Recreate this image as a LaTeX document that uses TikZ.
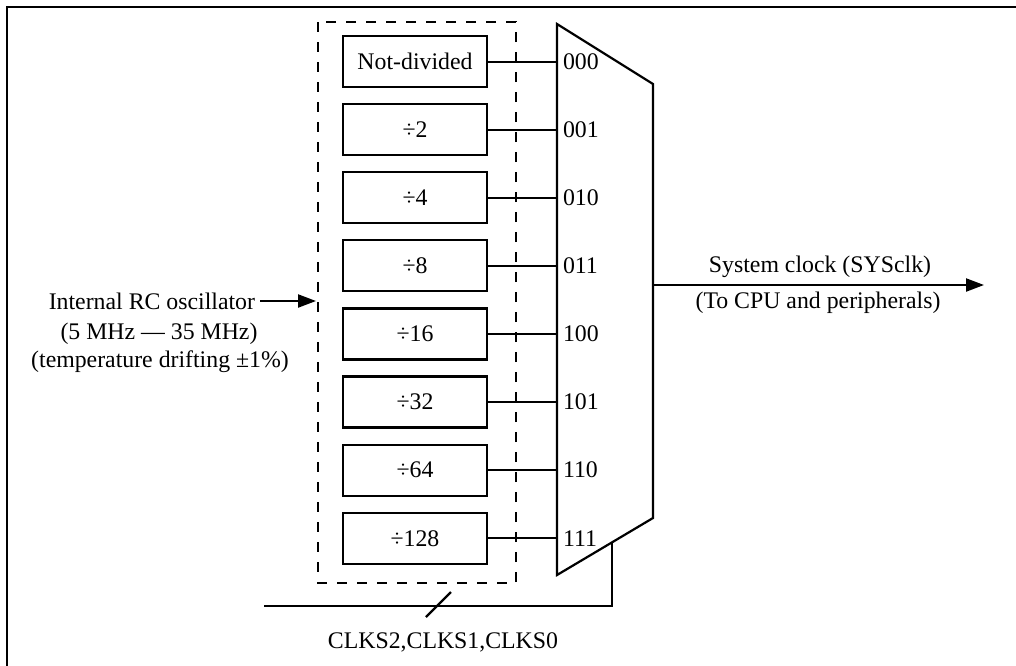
\documentclass[tikz,border=0pt]{standalone}
\usepackage{fontspec}
\setmainfont{Liberation Serif}
\usetikzlibrary{arrows.meta}
\begin{document}
\begin{tikzpicture}[x=0.5pt,y=-0.5pt,
  line width=1pt,
  txt/.style={font=\fontsize{11.9}{14}\selectfont, inner sep=0pt},
  divbox/.style={draw, line width=1.1pt, minimum width=72pt, minimum height=25.5pt, inner sep=0pt, font=\fontsize{11.9}{14}\selectfont},
  arr/.style={-{Triangle[length=9pt,width=6.5pt]}, line width=1.1pt},
  dashbox/.style={draw, dash pattern=on 5pt off 5pt, line width=0.8pt}
]
\useasboundingbox (0,0) rectangle (1016,665);
% outer frame (right and bottom edges lie outside the picture)
\draw[line width=1.3pt] (7,700) -- (7,7) -- (1040,7);
% dashed group
\draw[dashbox] (318,22) rectangle (516,583);
% divider boxes
\foreach \i/\t in {0/Not-divided,1/{\char"00F7 2},2/{\char"00F7 4},3/{\char"00F7 8},4/{\char"00F7 16},5/{\char"00F7 32},6/{\char"00F7 64},7/{\char"00F7 128}}{
  \node[divbox] (b\i) at (415,61.5+68.1*\i) {\t};
  \coordinate (m\i) at (557,61.5+68.1*\i);
  \draw (b\i.east) -- (m\i);
}
% mux
\coordinate (mtl) at (557,24);
\coordinate (mtr) at (653,84);
\coordinate (mbr) at (653,518);
\coordinate (mbl) at (557,575);
\draw[line width=1.1pt] (mtl) -- (mtr) -- (mbr) -- (mbl) -- cycle;
\foreach \i/\t in {0/000,1/001,2/010,3/011,4/100,5/101,6/110,7/111}{
  \node[txt, anchor=west] (l\i) at (562,61.5+68.1*\i) {\t};
}
% output
\coordinate (outs) at (653,285);
\coordinate (oute) at (984,285);
\draw[arr] (outs) -- (oute);
\node[txt] (sys1) at (820,267) {System clock (SYSclk)};
\node[txt] (sys2) at (818,303) {(To CPU and peripherals)};
% input
\node[txt, anchor=east] (in1) at (256,301) {Internal RC oscillator};
\node[txt] (in2) at (159,334) {(5 MHz — 35 MHz)};
\node[txt] (in3) at (160,362) {(temperature drifting ±1\%)};
\coordinate (ine) at (316,301);
\draw[arr] (in1.east) ++(4,0) -- (ine);
% control line
\coordinate (cs) at (264,606);
\coordinate (cc) at (612,606);
\coordinate (ct) at (612,542);
\draw[line width=1.1pt] (cs) -- (cc) -- (ct);
\coordinate (sl1) at (426,617);
\coordinate (sl2) at (451,592);
\draw[line width=1.1pt] (sl1) -- (sl2);
\node[txt] (ctl) at (443,642) {CLKS2,CLKS1,CLKS0};
\end{tikzpicture}
\end{document}
